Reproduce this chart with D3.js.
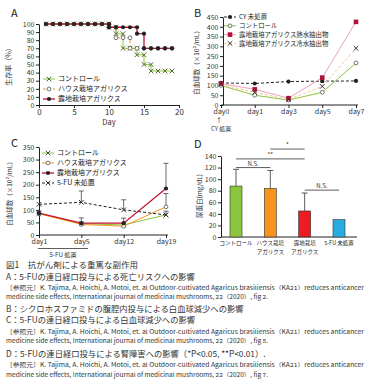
<!DOCTYPE html>
<html>
<head>
<meta charset="utf-8">
<script src="https://cdn.jsdelivr.net/npm/d3@7"></script>
<style>
body { margin: 0; background: #fff; }
text { font-family: 'Noto Sans CJK JP', 'Noto Sans', sans-serif; }
</style>
</head>
<body>
<script>
// ---- data ----
// A: survival (%)
const aDays = [1,2,3,4,5,6,7,8,9,10,11,12,13,14,15,16,17,18,19]
const aControl = [100,100,100,100,100,100,100,100,100,96,88,70,70,62,50,42,42,42,42]
const aHouse   = [100,100,100,100,100,100,100,100,100,96,83,83,70,70,70,70,70,70,70]
const aOpen    = [100,100,100,100,100,100,100,100,100,96,96,96,96,88,70,70,70,70,70]
const aNames = ['コントロール', 'ハウス栽培アガリクス', '露地栽培アガリクス']

// B: white blood cells
const bDays = ['day0','day1','day3','day5','day7']
const bNoCY   = [113,110,120,122,123]
const bCtrl   = [100,50,25,65,215]
const bHot    = [110,80,35,140,425]
const bCold   = [105,65,28,95,290]
const bNames = ['CY 未処置', 'コントロール', '露地栽培アガリクス熱水抽出物', '露地栽培アガリクス冷水抽出物']

// C: white blood cells with 5-FU
const cDays = ['day1','day5','day12','day19']
const cCtrl  = [85,45,40,80]
const cHouse = [85,42,35,112]
const cOpen  = [87,47,47,185]
const cNoFU  = [122,130,100,80]
const cHouseErr = [null,null,null,165]
const cOpenErr  = [95,68,67,285]
const cNoFUErr  = [null,175,140,95]
const cNames = ['コントロール', 'ハウス栽培アガリクス', '露地栽培アガリクス', '5-FU 未処置']

// D: urine protein
const dGroups = ['コントロール', 'ハウス栽培|アガリクス', '露地栽培|アガリクス', '5-FU 未処置']
const dValues = [88, 84, 45, 30]
const dErr = [117, 115, 76, null]
const dSig = [
  {a: 0, b: 1, y: 120, label: 'N.S.'},
  {a: 0, b: 2, y: 135, label: '**'},
  {a: 1, b: 2, y: 152, label: '*'},
  {a: 2, b: 3, y: 81, label: 'N.S.'}
]

const caption = [
  {t: '図1　抗がん剤による重篤な副作用', s: 8.5, y: 265.5},
  {t: 'A：5-FUの連日経口投与による死亡リスクへの影響', s: 8.3, y: 277},
  {t: '［参照元］K. Tajima, A. Hoichi, A. Motoi, et. al Outdoor-cultivated Agaricus brasiliensis（KA21）reduces anticancer', s: 5.6, y: 288, w: 358},
  {t: 'medicine side effects, International journal of medicinal mushrooms, 22（2020）, fig 2.', s: 5.6, y: 297, w: 262},
  {t: 'B：シクロホスファミドの腹腔内投与による白血球減少への影響', s: 8.3, y: 309},
  {t: 'C：5-FUの連日経口投与による白血球減少への影響', s: 8.3, y: 320},
  {t: '［参照元］K. Tajima, A. Hoichi, A. Motoi, et. al Outdoor-cultivated Agaricus brasiliensis（KA21）reduces anticancer', s: 5.6, y: 332, w: 358},
  {t: 'medicine side effects, International journal of medicinal mushrooms, 22（2020）, fig 8.', s: 5.6, y: 341, w: 262},
  {t: 'D：5-FUの連日経口投与による腎障害への影響（*P<0.05, **P<0.01）.', s: 8.3, y: 354},
  {t: '［参照元］K. Tajima, A. Hoichi, A. Motoi, et. al Outdoor-cultivated Agaricus brasiliensis（KA21）reduces anticancer', s: 5.6, y: 365, w: 358},
  {t: 'medicine side effects, International journal of medicinal mushrooms, 22（2020）, fig 7.', s: 5.6, y: 375, w: 262}
]

const svg = d3.select('body').append('svg')
  .attr('width', 384)
  .attr('height', 384)

const GREEN = '#8cc63e', ORANGE = '#f7941d', RED = '#c41230', PINK = '#eaa2bd', LORANGE = '#f6c88e'

function styleAxis(g) {
  g.selectAll('path, line').attr('stroke', '#222').attr('stroke-width', 1)
  g.selectAll('text').attr('font-size', 7).attr('fill', '#333')
}

function marker(g, type, x, y, col) {
  if (type === 'x') {
    g.append('path').attr('d', `M${x-2.3},${y-2.3}L${x+2.3},${y+2.3}M${x-2.3},${y+2.3}L${x+2.3},${y-2.3}`)
      .attr('stroke', col).attr('stroke-width', 1)
  } else if (type === 'o') {
    g.append('circle').attr('cx', x).attr('cy', y).attr('r', 1.9).attr('fill', '#fff').attr('stroke', col).attr('stroke-width', 0.8)
  } else if (type === 'dot') {
    g.append('circle').attr('cx', x).attr('cy', y).attr('r', 2.1).attr('fill', col)
  } else if (type === 'sq') {
    g.append('rect').attr('x', x-2.3).attr('y', y-2.3).attr('width', 4.6).attr('height', 4.6).attr('fill', col)
  }
}

function legend(g, x, y, items, fs) {
  items.forEach((it, i) => {
    const yy = y + i * it.gap
    g.append('line').attr('x1', x).attr('x2', x + 12).attr('y1', yy).attr('y2', yy)
      .attr('stroke', it.col).attr('stroke-width', it.w || 1).attr('stroke-dasharray', it.dash || null)
    marker(g, it.m, x + 6, yy, it.mcol)
    g.append('text').attr('x', x + 15).attr('y', yy + 2.4).attr('font-size', fs || 7).attr('fill', '#222').text(it.name)
  })
}

function panelLabel(x, y, t) {
  svg.append('text').attr('x', x).attr('y', y).attr('font-size', 11).attr('fill', '#222').attr('font-family', 'Liberation Sans, Arial').text(t)
}

// ---------- Panel A ----------
{
  const g = svg.append('g')
  const x = d3.scaleLinear().domain([0, 20]).range([39, 179])
  const y = d3.scaleLinear().domain([0, 100]).range([105, 24])
  g.append('g').attr('transform', 'translate(0,105)').call(d3.axisBottom(x).tickValues([0,5,10,15,20]).tickSize(3).tickPadding(1).tickSizeOuter(0)).call(styleAxis)
    .selectAll('text').attr('font-size', 8)
  g.append('g').attr('transform', 'translate(39,0)').call(d3.axisLeft(y).tickValues(d3.range(0, 101, 10)).tickSize(3).tickPadding(1.5).tickSizeOuter(0)).call(styleAxis)
  g.append('text').attr('x', 109).attr('y', 125).attr('text-anchor', 'middle').attr('font-size', 7.5).attr('fill', '#333').text('Day')
  g.append('text').attr('transform', 'translate(11,65) rotate(-90)').attr('text-anchor', 'middle').attr('font-size', 7).attr('fill', '#333').text('生存率（%）')

  const series = [
    {v: aControl, col: GREEN, dash: null, m: 'x', mcol: '#556b2f', w: 1},
    {v: aHouse, col: ORANGE, dash: '3,2', m: 'o', mcol: '#555', w: 1},
    {v: aOpen, col: RED, dash: null, m: 'dot', mcol: '#222', w: 1.3}
  ]
  const line = d3.line().x(d => x(d[0])).y(d => y(d[1])).curve(d3.curveStepAfter)
  series.forEach(s => {
    const pts = aDays.map((d, i) => [d, s.v[i]])
    g.append('path').attr('d', line(pts)).attr('fill', 'none').attr('stroke', s.col)
      .attr('stroke-width', s.w).attr('stroke-dasharray', s.dash)
  })
  series.forEach(s => {
    aDays.forEach((d, i) => {
      if (i > 0 && s.v[i] !== s.v[i-1]) marker(g, s.m, x(d), y(s.v[i-1]), s.mcol)
      marker(g, s.m, x(d), y(s.v[i]), s.mcol)
    })
  })
  legend(g, 43, 79, series.map((s, i) => ({name: aNames[i], col: s.col, dash: s.dash, m: s.m, mcol: s.mcol, w: s.w, gap: 10})))
  panelLabel(11, 17, 'A')
}

// ---------- Panel B ----------
{
  const g = svg.append('g')
  const x = d3.scalePoint().domain(bDays).range([221, 356])
  const y = d3.scaleLinear().domain([0, 450]).range([105, 17])
  g.append('line').attr('x1', 221).attr('x2', 358).attr('y1', 105).attr('y2', 105).attr('stroke', '#222')
  const ax = g.append('g').attr('transform', 'translate(0,105)').call(d3.axisBottom(x).tickSize(3).tickPadding(1).tickSizeOuter(0)).call(styleAxis)
  ax.select('.domain').remove()
  g.append('g').attr('transform', 'translate(223,0)').call(d3.axisLeft(y).tickValues(d3.range(0, 451, 50)).tickSize(3).tickPadding(1.5).tickSizeOuter(0)).call(styleAxis)
  g.append('text').attr('transform', 'translate(199,61) rotate(-90)').attr('text-anchor', 'middle').attr('font-size', 6.5).attr('fill', '#333').text('白血球数（×10²/mL）')

  const series = [
    {v: bNoCY, col: '#222', dash: '3,2', m: 'dot', mcol: '#222', w: 1},
    {v: bCtrl, col: GREEN, dash: null, m: 'o', mcol: '#555', w: 1},
    {v: bHot, col: PINK, dash: null, m: 'sq', mcol: '#b0123a', w: 1},
    {v: bCold, col: LORANGE, dash: '3,2', m: 'x', mcol: '#333', w: 1}
  ]
  const line = d3.line().x((d, i) => x(bDays[i])).y(d => y(d))
  series.forEach(s => {
    g.append('path').attr('d', line(s.v)).attr('fill', 'none').attr('stroke', s.col)
      .attr('stroke-width', s.w).attr('stroke-dasharray', s.dash)
  })
  series.forEach(s => s.v.forEach((v, i) => marker(g, s.m, x(bDays[i]), y(v), s.mcol)))
  legend(g, 224, 17, series.map((s, i) => ({name: bNames[i], col: s.col, dash: s.dash, m: s.m, mcol: s.mcol, w: s.w, gap: 8.8})), 6.4)
  g.append('text').attr('x', 219).attr('y', 123).attr('text-anchor', 'middle').attr('font-size', 6.5).attr('fill', '#333').text('↑')
  g.append('text').attr('x', 211).attr('y', 131).attr('font-size', 6).attr('fill', '#333').text('CY 処置')
  panelLabel(194, 17, 'B')
}

// ---------- Panel C ----------
{
  const g = svg.append('g')
  const x = d3.scalePoint().domain(cDays).range([39, 166])
  const y = d3.scaleLinear().domain([0, 350]).range([235, 147])
  g.append('line').attr('x1', 39).attr('x2', 168).attr('y1', 235).attr('y2', 235).attr('stroke', '#222')
  const ax = g.append('g').attr('transform', 'translate(0,235)').call(d3.axisBottom(x).tickSize(3).tickPadding(1).tickSizeOuter(0)).call(styleAxis)
  ax.select('.domain').remove()
  g.append('g').attr('transform', 'translate(39,0)').call(d3.axisLeft(y).tickValues(d3.range(0, 351, 50)).tickSize(3).tickPadding(1.5).tickSizeOuter(0)).call(styleAxis)
  g.append('text').attr('transform', 'translate(12,192) rotate(-90)').attr('text-anchor', 'middle').attr('font-size', 6.5).attr('fill', '#333').text('白血球数（×10²/mL）')
  g.append('line').attr('x1', 38).attr('x2', 88).attr('y1', 248.5).attr('y2', 248.5).attr('stroke', '#333').attr('stroke-width', 0.8)
  g.append('text').attr('x', 63).attr('y', 256.5).attr('text-anchor', 'middle').attr('font-size', 6.2).attr('fill', '#333').text('5-FU 処置')

  const series = [
    {v: cCtrl, err: null, col: GREEN, dash: null, m: 'x', mcol: '#445', w: 1},
    {v: cHouse, err: cHouseErr, col: ORANGE, dash: null, m: 'o', mcol: '#555', w: 1},
    {v: cOpen, err: cOpenErr, col: RED, dash: null, m: 'dot', mcol: '#222', w: 1.3},
    {v: cNoFU, err: cNoFUErr, col: '#222', dash: '3,2', m: 'x', mcol: '#333', w: 1}
  ]
  // error bars
  series.forEach(s => {
    if (!s.err) return
    s.err.forEach((e, i) => {
      if (e == null) return
      const cx = x(cDays[i])
      g.append('line').attr('x1', cx).attr('x2', cx).attr('y1', y(s.v[i])).attr('y2', y(e)).attr('stroke', '#444').attr('stroke-width', 0.8)
      g.append('line').attr('x1', cx - 2.5).attr('x2', cx + 2.5).attr('y1', y(e)).attr('y2', y(e)).attr('stroke', '#444').attr('stroke-width', 0.8)
    })
  })
  const line = d3.line().x((d, i) => x(cDays[i])).y(d => y(d))
  series.forEach(s => {
    g.append('path').attr('d', line(s.v)).attr('fill', 'none').attr('stroke', s.col)
      .attr('stroke-width', s.w).attr('stroke-dasharray', s.dash)
  })
  series.forEach(s => s.v.forEach((v, i) => marker(g, s.m, x(cDays[i]), y(v), s.mcol)))
  legend(g, 42, 153, series.map((s, i) => ({name: cNames[i], col: s.col, dash: s.dash, m: s.m, mcol: s.mcol, w: s.w, gap: 10})))
  panelLabel(11, 147, 'C')
}

// ---------- Panel D ----------
{
  const g = svg.append('g')
  const x = d3.scalePoint().domain(dGroups).range([236, 339])
  const y = d3.scaleLinear().domain([0, 140]).range([237, 156])
  const colors = [GREEN, ORANGE, '#ed1c24', '#29abe2']
  const bw = 12
  g.append('line').attr('x1', 221).attr('x2', 357).attr('y1', 237).attr('y2', 237).attr('stroke', '#222')
  g.append('g').attr('transform', 'translate(221,0)').call(d3.axisLeft(y).tickValues(d3.range(0, 141, 20)).tickSize(3).tickPadding(1.5).tickSizeOuter(0)).call(styleAxis)
  g.append('text').attr('transform', 'translate(202,196) rotate(-90)').attr('text-anchor', 'middle').attr('font-size', 6.5).attr('fill', '#333').text('尿蛋白(mg/dL)')

  dGroups.forEach((grp, i) => {
    if (dErr[i] != null) {
      const cx = x(grp)
      g.append('line').attr('x1', cx).attr('x2', cx).attr('y1', y(dValues[i])).attr('y2', y(dErr[i])).attr('stroke', '#333').attr('stroke-width', 0.8)
      g.append('line').attr('x1', cx - 3).attr('x2', cx + 3).attr('y1', y(dErr[i])).attr('y2', y(dErr[i])).attr('stroke', '#333').attr('stroke-width', 0.8)
    }
  })
  g.selectAll('.bar').data(dValues).enter().append('rect')
    .attr('x', (d, i) => x(dGroups[i]) - bw / 2)
    .attr('y', d => y(d))
    .attr('width', bw)
    .attr('height', d => y(0) - y(d))
    .attr('fill', (d, i) => colors[i])
    .attr('stroke', '#333').attr('stroke-width', 0.6)

  dGroups.forEach((grp, i) => {
    const parts = grp.split('|')
    parts.forEach((p, j) => {
      g.append('text').attr('x', x(grp)).attr('y', 245 + j * 8.5).attr('text-anchor', 'middle')
        .attr('font-size', 5.5).attr('fill', '#222').text(p)
    })
  })

  dSig.forEach(s => {
    const x1 = x(dGroups[s.a]), x2 = x(dGroups[s.b])
    g.append('line').attr('x1', x1).attr('x2', x2).attr('y1', y(s.y)).attr('y2', y(s.y)).attr('stroke', '#333').attr('stroke-width', 0.8)
    g.append('text').attr('x', (x1 + x2) / 2).attr('y', y(s.y) - 2).attr('text-anchor', 'middle')
      .attr('font-size', 6).attr('fill', '#333').text(s.label)
  })
  panelLabel(194, 148, 'D')
}

// ---------- caption ----------
caption.forEach(c => {
  const t = svg.append('text').attr('x', 6).attr('y', c.y + c.s * 0.35).attr('font-size', c.s).attr('fill', '#333').text(c.t)
  if (c.w) t.attr('textLength', c.w).attr('lengthAdjust', 'spacingAndGlyphs')
})
</script>
</body>
</html>
